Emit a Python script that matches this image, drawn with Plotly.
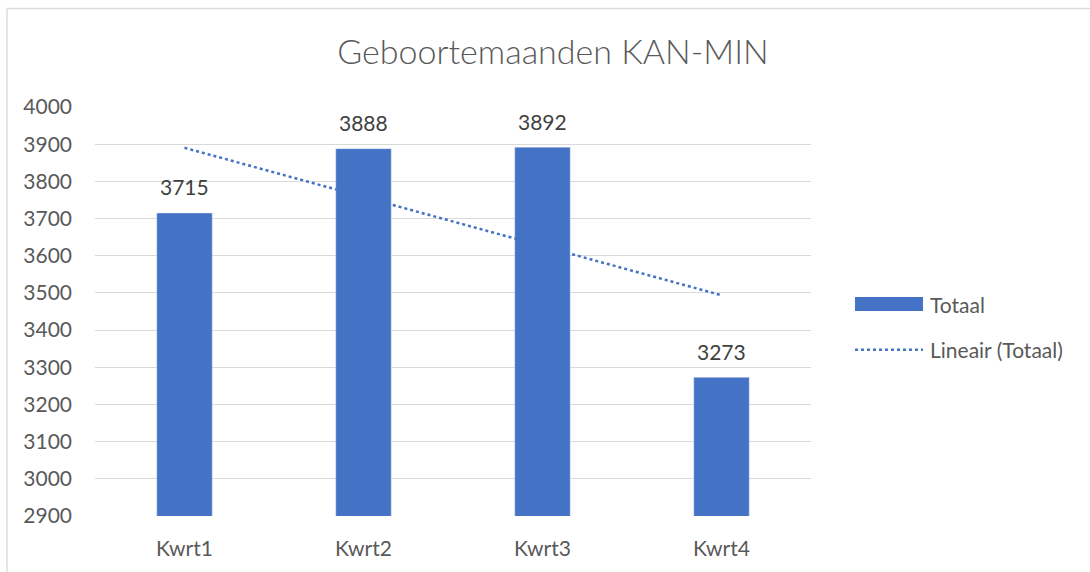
import numpy as np
import plotly.graph_objects as go

categories = ["Kwrt1", "Kwrt2", "Kwrt3", "Kwrt4"]
totaal = [3715, 3888, 3892, 3273]
y_ticks = [2900, 3000, 3100, 3200, 3300, 3400, 3500, 3600, 3700, 3800, 3900, 4000]
title_text = "Geboortemaanden KAN-MIN"
legend_labels = ["Totaal", "Lineair (Totaal)"]

# Linear trendline (least squares, as Excel does)
xi = np.arange(1, len(totaal) + 1)
slope, intercept = np.polyfit(xi, totaal, 1)
trend = slope * xi + intercept

BLUE = "#4472C4"
GREY = "#595959"
FONT = "Lato"
FS = 21

fig = go.Figure()
fig.add_trace(go.Bar(
    x=categories, y=totaal, marker_color=BLUE, width=0.31,
    showlegend=False, name=legend_labels[0],
))
fig.add_trace(go.Scatter(
    x=categories, y=trend, mode="lines",
    line=dict(color=BLUE, width=2.5, dash="dot"),
    showlegend=False, name=legend_labels[1],
))

# Data labels above bars
for c, v in zip(categories, totaal):
    fig.add_annotation(x=c, y=v, text=str(v), showarrow=False, yanchor="middle", yshift=26,
                       font=dict(family=FONT, size=FS, color="#404040"))

fig.update_layout(
    width=1090, height=572,
    margin=dict(l=95, r=279, t=107, b=54),
    paper_bgcolor="white", plot_bgcolor="white",
    title=dict(text=title_text, x=553 / 1090, xanchor="center", y=1 - 52 / 572, yanchor="middle",
               font=dict(family=FONT, size=34, color=GREY, weight=300)),
    xaxis=dict(showgrid=False, showline=False, ticks="", ticklabelstandoff=18,
               tickfont=dict(family=FONT, size=FS, color=GREY)),
    yaxis=dict(range=[2900, 4000], tickvals=y_ticks, showgrid=True, gridcolor="#D9D9D9",
               gridwidth=1.3, zeroline=False, showline=False, ticks="", ticklabelstandoff=22,
               tickfont=dict(family=FONT, size=FS, color=GREY)),
)

def px_x(p):
    return (p - 95) / 716

def px_y(p):
    return (518 - p) / 411

# Chart area border
fig.add_shape(type="rect", xref="paper", yref="paper",
              x0=px_x(7), x1=px_x(1100), y0=px_y(585), y1=px_y(8),
              line=dict(color="#D9D9D9", width=1.3), fillcolor="rgba(0,0,0,0)", layer="below")

# Custom legend (Excel style)
fig.add_shape(type="rect", xref="paper", yref="paper",
              x0=px_x(855), x1=px_x(923), y0=px_y(312), y1=px_y(298),
              fillcolor=BLUE, line=dict(width=0))
fig.add_shape(type="line", xref="paper", yref="paper",
              x0=px_x(855), x1=px_x(923), y0=px_y(351), y1=px_y(351),
              line=dict(color=BLUE, width=2.5, dash="dot"))
fig.add_annotation(text=legend_labels[0], xref="paper", yref="paper", x=px_x(928), y=px_y(305),
                   xanchor="left", yanchor="middle", showarrow=False,
                   font=dict(family=FONT, size=FS, color=GREY))
fig.add_annotation(text=legend_labels[1], xref="paper", yref="paper", x=px_x(928), y=px_y(351),
                   xanchor="left", yanchor="middle", showarrow=False,
                   font=dict(family=FONT, size=FS, color=GREY))

fig.write_html("out.html", config={"displayModeBar": False},
               post_script="document.body.style.margin='0';")
